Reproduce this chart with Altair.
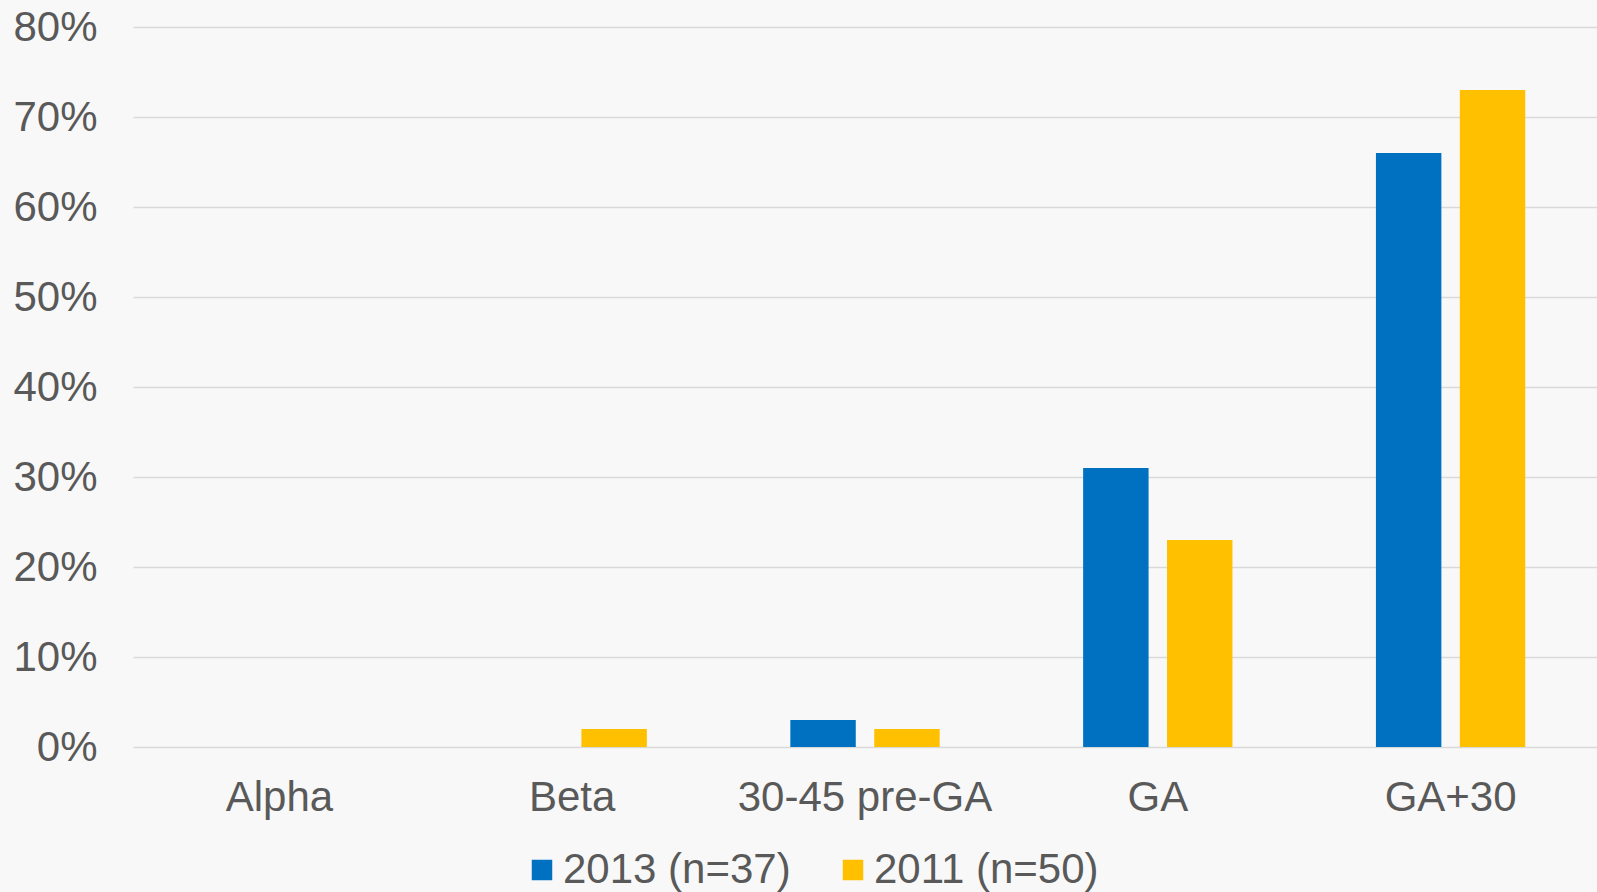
import altair as alt
import pandas as pd

# Release stages and share of respondents per survey year
stages = ["Alpha", "Beta", "30-45 pre-GA", "GA", "GA+30"]
series = ["2013 (n=37)", "2011 (n=50)"]
values_2013 = [0.00, 0.00, 0.03, 0.31, 0.66]
values_2011 = [0.00, 0.02, 0.02, 0.23, 0.73]
colors = ["#0070C0", "#FFC000"]

rows = []
for i, stage in enumerate(stages):
    rows.append({"stage": stage, "series": series[0], "value": values_2013[i]})
    rows.append({"stage": stage, "series": series[1], "value": values_2011[i]})
df = pd.DataFrame(rows)

FONT = "Liberation Sans"
TEXT = "#595959"
SIZE = 42

bars = alt.Chart(df).mark_bar().encode(
    x=alt.X(
        "stage:N",
        sort=stages,
        scale=alt.Scale(paddingInner=0.49, paddingOuter=0.245),
        axis=alt.Axis(
            title=None,
            labelAngle=0,
            labelFont=FONT,
            labelFontSize=SIZE,
            labelColor=TEXT,
            labelPadding=30,
            labelLimit=0,
            ticks=False,
            domain=False,
            grid=False,
        ),
    ),
    xOffset=alt.XOffset(
        "series:N",
        sort=series,
        scale=alt.Scale(paddingInner=0.22, paddingOuter=0),
    ),
    y=alt.Y(
        "value:Q",
        scale=alt.Scale(domain=[0, 0.8], nice=False),
        axis=alt.Axis(
            title=None,
            format=".0%",
            values=[0, 0.1, 0.2, 0.3, 0.4, 0.5, 0.6, 0.7, 0.8],
            labelFont=FONT,
            labelFontSize=SIZE,
            labelColor=TEXT,
            labelPadding=36,
            labelLimit=0,
            ticks=False,
            domain=False,
            grid=True,
            gridColor="#D9D9D9",
            gridWidth=1.5,
        ),
    ),
    color=alt.Color(
        "series:N",
        sort=series,
        scale=alt.Scale(domain=series, range=colors),
        legend=alt.Legend(
            title=None,
            orient="none",
            direction="horizontal",
            legendX=388,
            legendY=822,
            symbolType="square",
            symbolSize=420,
            symbolStrokeWidth=0,
            symbolOpacity=1,
            labelFont=FONT,
            labelFontSize=SIZE,
            labelColor=TEXT,
            labelLimit=0,
            labelOffset=0,
            columnPadding=41,
        ),
    ),
)

chart = bars.properties(
    width=1464,
    height=720,
    background="#F8F8F8",
    padding={"left": 133, "top": 27, "right": 0, "bottom": 145},
    autosize=alt.AutoSizeParams(type="none"),
).configure_view(stroke=None)

chart.save("out.html", embed_options={"renderer": "svg", "actions": False})
